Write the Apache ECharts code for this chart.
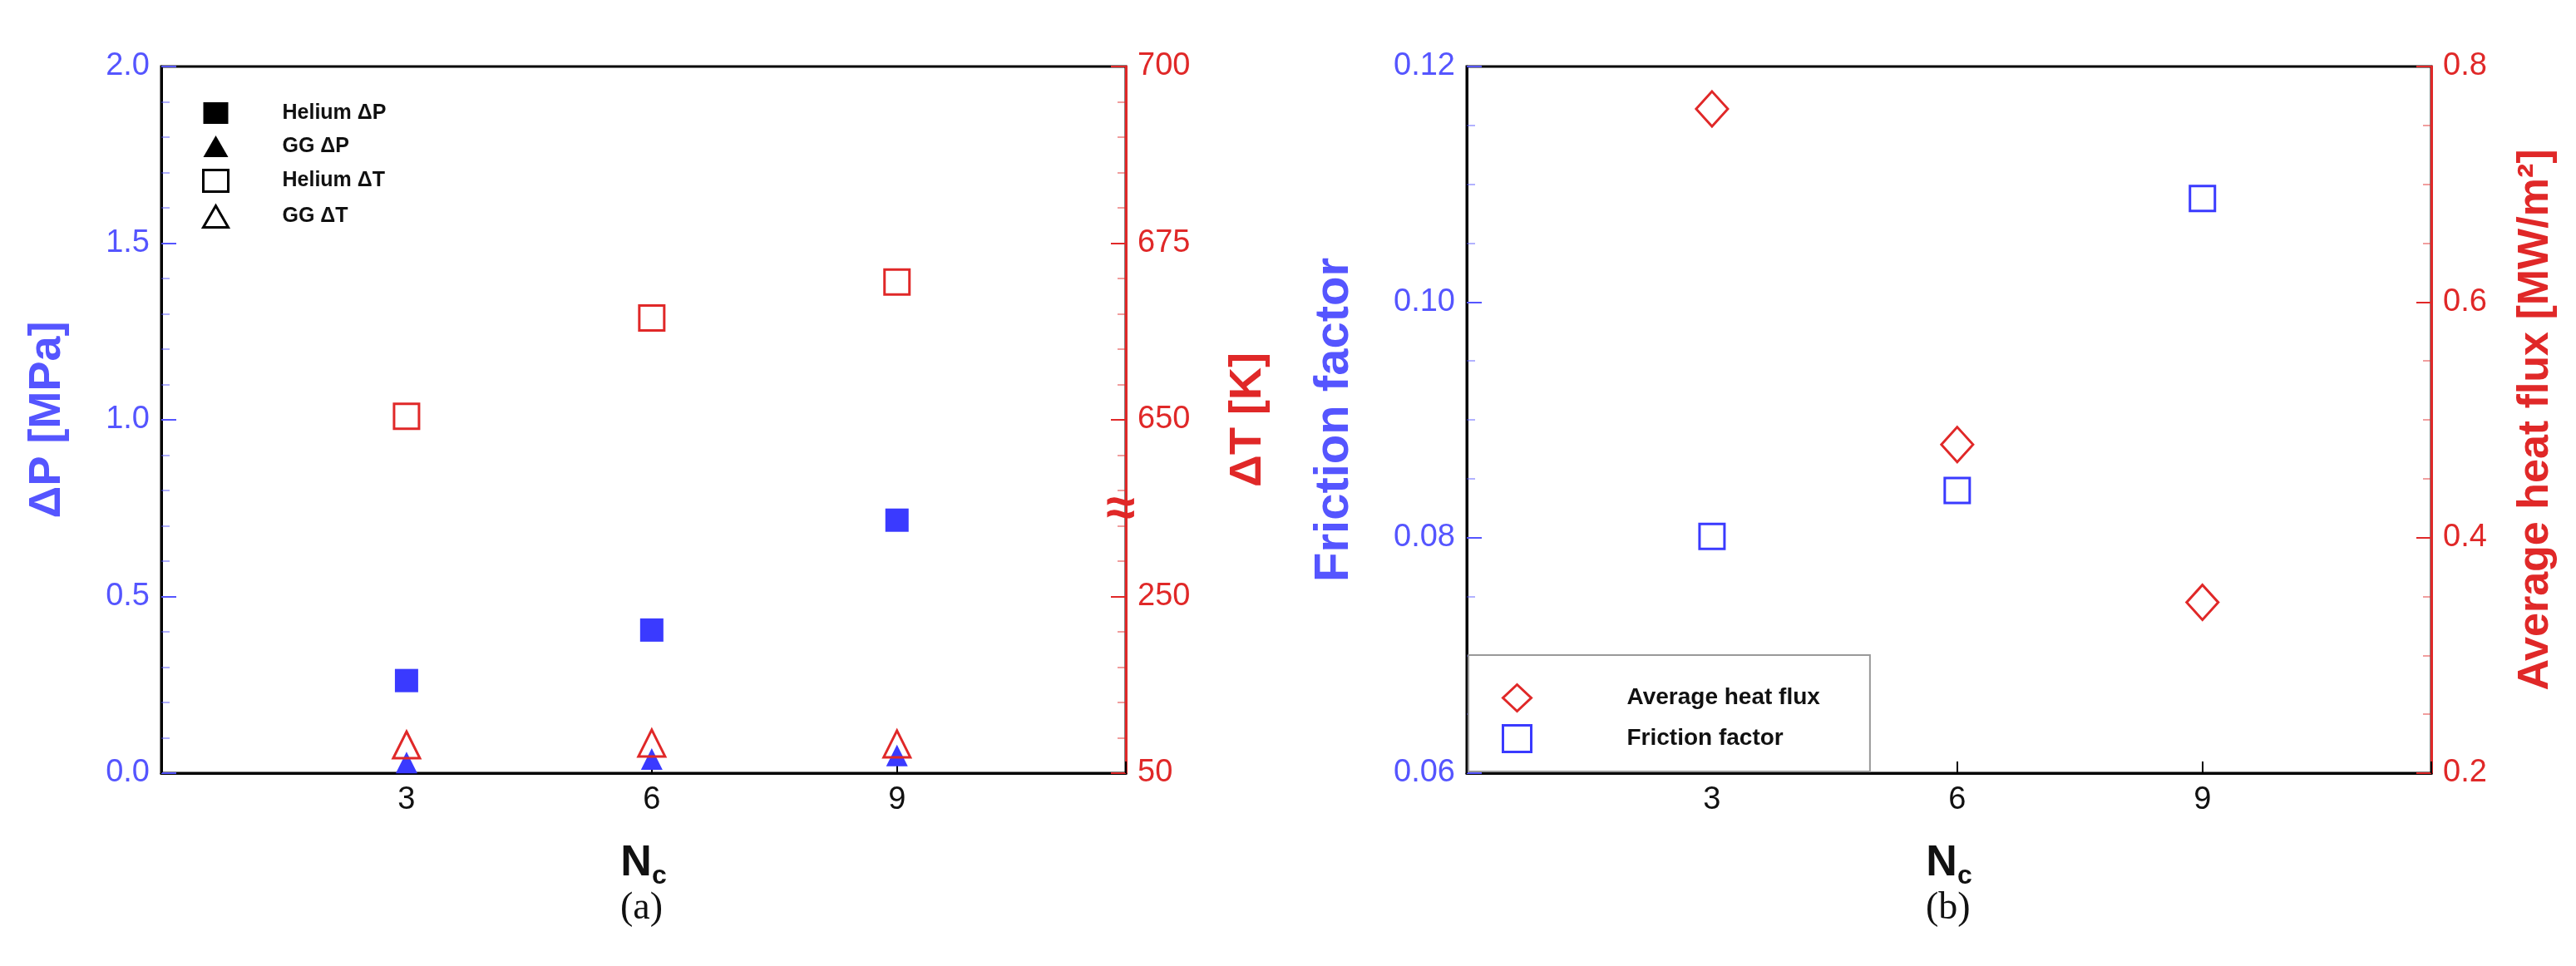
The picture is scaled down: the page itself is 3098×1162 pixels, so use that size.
<!DOCTYPE html>
<html>
<head>
<meta charset="utf-8">
<script src="https://cdn.jsdelivr.net/npm/echarts@6/dist/echarts.min.js"></script>
<style>html,body{margin:0;background:#fff}#c{width:3098px;height:1162px}</style>
</head>
<body>
<div id="c"></div>
<script>
var nc = [3, 6, 9];
var heliumDP = [0.262, 0.405, 0.716];
var ggDP = [0.03, 0.04, 0.05];
var heliumDT = [650.5, 664.4, 669.5];
var ggDT = [82, 84, 83];
var friction = [0.0801, 0.084, 0.1088];
var heatFlux = [0.764, 0.479, 0.345];

var BLUE = '#3a3aff', LBLUE = '#5555ff', RED = '#e02828';

// broken ΔT axis: 50-250 K on lower quarter, 650-700 K on upper half
function kToAxis(v) {
  if (v <= 250) return (v - 50) / 400;
  if (v >= 650) return 1 + (v - 650) / 50;
  return 0.5 + (v - 250) / 800;
}
function axisToK(a) {
  if (a <= 0.5) return 50 + a * 400;
  if (a >= 1) return 650 + (a - 1) * 50;
  return 250 + (a - 0.5) * 800;
}
function pairs(xs, ys, f) {
  return xs.map(function (x, i) { return [x, f ? f(ys[i]) : ys[i]]; });
}

var chart = echarts.init(document.getElementById('c'));
var tickFont = { fontFamily: 'Liberation Sans', fontSize: 38 };

function xAx(gi) {
  return {
    type: 'value', gridIndex: gi, min: 0, max: 11.8, interval: 3,
    axisLine: { lineStyle: { color: '#000', width: 3 } },
    axisTick: { inside: true, length: 14, lineStyle: { color: '#000', width: 2 } },
    splitLine: { show: false },
    axisLabel: Object.assign({ color: '#111', margin: 14,
      formatter: function (v) { return (v > 0 && v < 11) ? v : ''; } }, tickFont),
    name: '{n|N}{s|c}', nameLocation: 'middle', nameGap: 78,
    nameTextStyle: { rich: {
      n: { fontFamily: 'Liberation Sans', fontSize: 52, fontWeight: 'bold', color: '#111' },
      s: { fontFamily: 'Liberation Sans', fontSize: 32, fontWeight: 'bold', color: '#111', padding: [30, 0, 0, 0] } } }
  };
}
function yAx(gi, pos, color, lineColor, min, max, interval, name, fmt, nameGap, nameSize, minorSplit) {
  return {
    type: 'value', gridIndex: gi, position: pos, min: min, max: max, interval: interval,
    axisLine: { show: true, lineStyle: { color: lineColor, width: 3 } },
    axisTick: { inside: true, length: 18, lineStyle: { color: color, width: 2 } },
    minorTick: { show: true, splitNumber: minorSplit, length: 10, lineStyle: { color: color, width: 1.5, opacity: 0.6 } },
    splitLine: { show: false },
    axisLabel: Object.assign({ color: color, margin: 14, formatter: fmt }, tickFont),
    name: name, nameLocation: 'middle', nameGap: nameGap,
    nameTextStyle: { color: color, fontFamily: 'Liberation Sans', fontSize: nameSize, fontWeight: 'bold' }
  };
}
function sc(name, xi, yi, data, symbol, size, fill, stroke) {
  return {
    name: name, type: 'scatter', xAxisIndex: xi, yAxisIndex: yi, data: data,
    symbol: symbol, symbolSize: size,
    itemStyle: { color: fill, borderColor: stroke, borderWidth: fill === 'transparent' ? 3 : 0, opacity: 1 }
  };
}
var legText = { fontFamily: 'Liberation Sans', fontWeight: 'bold', color: '#111' };

chart.setOption({
  animation: false,
  grid: [
    { left: 194, top: 80, width: 1160, height: 850, show: true, borderColor: '#000', borderWidth: 3 },
    { left: 1764, top: 80, width: 1160, height: 850, show: true, borderColor: '#000', borderWidth: 3 }
  ],
  xAxis: [xAx(0), xAx(1)],
  yAxis: [
    yAx(0, 'left', LBLUE, '#000', 0, 2, 0.5, 'ΔP [MPa]', function (v) { return v.toFixed(1); }, 110, 54, 5),
    yAx(0, 'right', RED, RED, 0, 2, 0.5, 'ΔT [K]', function (v) { return Math.round(axisToK(v)); }, 120, 54, 5),
    yAx(1, 'left', LBLUE, '#000', 0.06, 0.12, 0.02, 'Friction factor', function (v) { return v.toFixed(2); }, 130, 58, 4),
    yAx(1, 'right', RED, RED, 0.2, 0.8, 0.2, 'Average heat flux [MW/m²]', function (v) { return v.toFixed(1); }, 100, 52, 4)
  ],
  legend: [
    {
      left: 238, top: 118, orient: 'vertical', itemGap: 14, itemWidth: 30, itemHeight: 26,
      textStyle: Object.assign({ fontSize: 25, padding: [0, 0, 0, 60] }, legText),
      data: [
        { name: 'Helium ΔP', icon: 'rect', itemStyle: { color: '#000', borderWidth: 0 } },
        { name: 'GG ΔP', icon: 'triangle', itemStyle: { color: '#000', borderWidth: 0 } },
        { name: 'Helium ΔT', icon: 'rect', itemStyle: { color: '#fff', borderColor: '#000', borderWidth: 3 } },
        { name: 'GG ΔT', icon: 'triangle', itemStyle: { color: '#fff', borderColor: '#000', borderWidth: 3 } }
      ]
    },
    {
      left: 1766, top: 788, orient: 'vertical', itemGap: 14, itemWidth: 34, itemHeight: 32,
      padding: [34, 60, 22, 40], borderColor: '#999', borderWidth: 2, backgroundColor: '#fff',
      textStyle: Object.assign({ fontSize: 28, padding: [0, 0, 0, 110] }, legText),
      data: [
        { name: 'Average heat flux', icon: 'diamond', itemStyle: { color: '#fff', borderColor: RED, borderWidth: 3 } },
        { name: 'Friction factor', icon: 'rect', itemStyle: { color: '#fff', borderColor: BLUE, borderWidth: 3 } }
      ]
    }
  ],
  graphic: [
    { type: 'text', left: 1330, top: 582, style: { text: '≈', fill: RED, font: 'bold 64px Liberation Sans' } },
    { type: 'text', left: 746, top: 1070, style: { text: '(a)', fill: '#111', font: '46px Liberation Serif' } },
    { type: 'text', left: 2316, top: 1070, style: { text: '(b)', fill: '#111', font: '46px Liberation Serif' } }
  ],
  series: [
    sc('Helium ΔP', 0, 0, pairs(nc, heliumDP), 'rect', 28, BLUE, BLUE),
    sc('GG ΔP', 0, 0, pairs(nc, ggDP), 'triangle', 26, BLUE, BLUE),
    sc('Helium ΔT', 0, 1, pairs(nc, heliumDT, kToAxis), 'rect', 30, 'transparent', RED),
    sc('GG ΔT', 0, 1, pairs(nc, ggDT, kToAxis), 'triangle', 32, 'transparent', RED),
    sc('Friction factor', 1, 2, pairs(nc, friction), 'rect', 30, 'transparent', BLUE),
    sc('Average heat flux', 1, 3, pairs(nc, heatFlux), 'diamond', [38, 42], 'transparent', RED)
  ]
});
</script>
</body>
</html>
